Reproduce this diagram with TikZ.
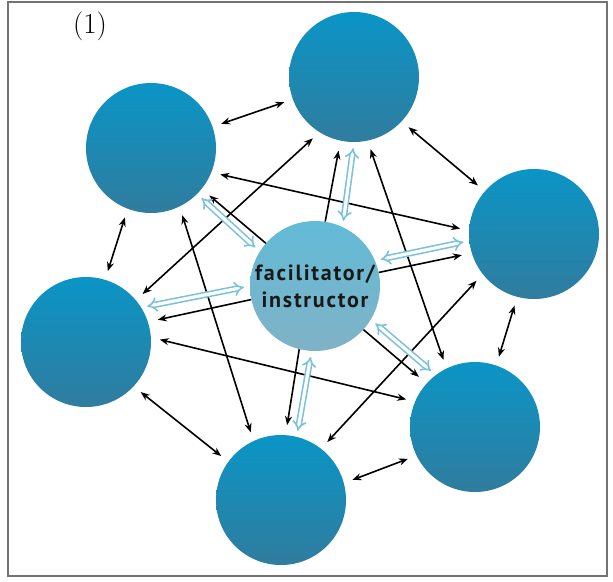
\documentclass[tikz,border=0pt]{standalone}
\usepackage{xcolor}
\usepackage{fontspec}
\usepackage{tikz}
\usetikzlibrary{positioning,arrows.meta,calc}
\newfontfamily\hubfont[LetterSpace=8]{PT Sans}

\definecolor{grouptop}{RGB}{10,149,198}
\definecolor{groupbottom}{RGB}{48,124,158}
\definecolor{hubtop}{RGB}{98,187,215}
\definecolor{hubbottom}{RGB}{128,178,198}
\definecolor{hollowblue}{RGB}{122,194,220}

\tikzset{
  group/.style={circle, minimum size=130pt, inner sep=0pt, top color=grouptop, bottom color=groupbottom},
  hub/.style={circle, minimum size=130pt, inner sep=0pt, top color=hubtop, bottom color=hubbottom,
    text=black!90, align=center, font=\hubfont\bfseries\fontsize{22}{27}\selectfont},
  link/.style={black, line width=1.6pt, {Stealth[length=9pt,width=7pt]}-{Stealth[length=9pt,width=7pt]},
    shorten <=9pt, shorten >=9pt},
  reach/.style={black, line width=1.6pt, -{Stealth[length=9pt,width=7pt]}, shorten >=10pt},
  flow/.style={draw=hollowblue, double=white, double distance=3.2pt, line width=1.6pt,
    {Implies}-{Implies}, shorten <=6pt, shorten >=6pt}
}

\begin{document}
\begin{tikzpicture}[x=1pt,y=-1pt]
\useasboundingbox (0,0) rectangle (613,581);

% Frame
\draw[black!55, line width=2pt] (8,2) rectangle (607,576);
\node[font=\fontsize{29}{34}\selectfont] (tag) at (90,26) {(1)};

% Groups
\node[group] (grpN) at (354,77) {};
\node[group] (grpNW) at (151,148) {};
\node[group] (grpE) at (534,234) {};
\node[group] (grpW) at (86,342) {};
\node[group] (grpSE) at (475,427) {};
\node[group] (grpS) at (281,500) {};
\node[hub] (hub) at (315,286) {facilitator/\\instructor};

% Links between groups
\foreach \a/\b in {grpNW.19/grpN.200, grpN.-43/grpE.139, grpE.-105/grpSE.71,
    grpSE.206/grpS.15, grpS.144/grpW.-43, grpW.73/grpNW.-111,
    grpNW.-22/grpE.177, grpNW.-64/grpS.115, grpN.-122/grpW.40,
    grpN.-78/grpSE.116, grpE.218/grpS.52, grpW.4/grpSE.157}
    \draw[link] (\a) -- (\b);

% Hub to groups
\foreach \a/\b in {hub.81/grpN.-102, hub.139/grpNW.-39, hub.12/grpE.197,
    hub.192/grpW.18, hub.-42/grpSE.138, hub.-104/grpS.86}
    \draw[reach] (\a) -- (\b);

% Two-way exchange with the hub
\foreach \a/\b in {hub.65/grpN.-90, hub.148/grpNW.-45, hub.23/grpE.186,
    hub.180/grpW.32, hub.-31/grpSE.127, hub.-93/grpS.76}
    \draw[flow] (\a) -- (\b);
\end{tikzpicture}
\end{document}
